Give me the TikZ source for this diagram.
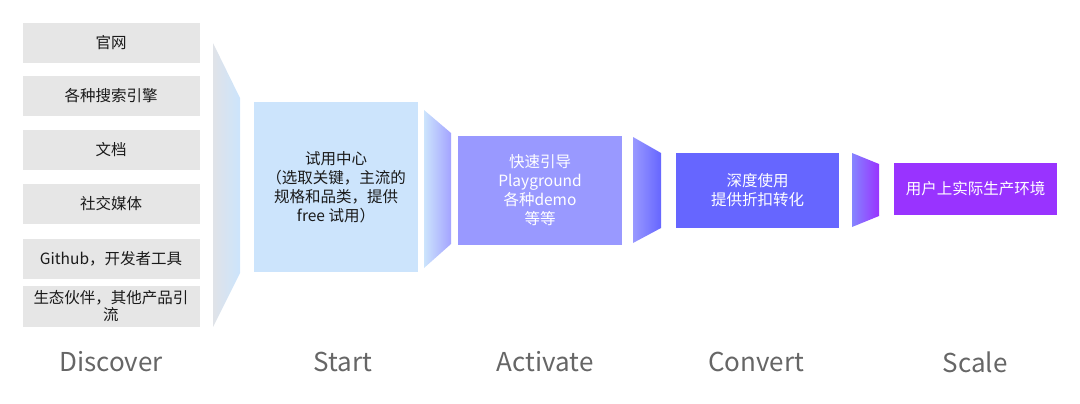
\documentclass[tikz,border=0pt]{standalone}
\usepackage{xcolor}
\usepackage{fontspec}
\setmainfont{Noto Sans CJK SC}
\usepackage{tikz}
\usetikzlibrary{positioning}

\definecolor{srcgray}{HTML}{E6E6E6}
\definecolor{funnelgray}{HTML}{E0E3E8}
\definecolor{startblue}{HTML}{CCE4FC}
\definecolor{actviolet}{HTML}{9999FF}
\definecolor{convblue}{HTML}{6666FF}
\definecolor{scalepurple}{HTML}{9933FF}
\definecolor{labelgray}{HTML}{666666}
\definecolor{textdark}{HTML}{1A1A1A}

\begin{document}
\begin{tikzpicture}[
    x=1pt, y=-1pt,
    source/.style={rectangle, fill=srcgray, minimum width=177pt, inner sep=0pt, align=center, text=textdark, font=\fontsize{15.5}{17}\selectfont},
    stage/.style={rectangle, inner sep=0pt, align=center, font=\fontsize{15.5}{19}\selectfont},
    phase/.style={text=labelgray, font=\fontsize{26}{30}\selectfont}
]
\useasboundingbox (0,0) rectangle (1080,404);
% Discover sources (left column)
\node[source, minimum height=40pt] (web) at (111, 43) {官网};
\node[source, minimum height=40pt] (search) at (111, 96) {各种搜索引擎};
\node[source, minimum height=40pt] (docs) at (111, 150) {文档};
\node[source, minimum height=40pt] (social) at (111, 204) {社交媒体};
\node[source, minimum height=40pt] (github) at (111, 259) {Github，开发者工具};
\node[source, minimum height=41pt] (partner) at (111, 306) {生态伙伴，其他产品引\\流};
% Funnel pieces
\shade[left color=funnelgray, right color=startblue] (213,43) -- (240,98) -- (240,273) -- (213,327) -- cycle;
\shade[left color=startblue, right color=actviolet!90] (424,110) -- (451,133) -- (451,244) -- (424,268) -- cycle;
\shade[left color=actviolet, right color=convblue] (633,137) -- (661,153) -- (661,228) -- (633,243) -- cycle;
\shade[left color=convblue!80, right color=scalepurple] (852,153) -- (879,164) -- (879,216) -- (852,227) -- cycle;
% Stage boxes
\node[stage, fill=startblue, text=textdark, minimum width=164pt, minimum height=170pt] (start) at (336, 187) {试用中心\\（选取关键，主流的\\规格和品类，提供\\free 试用）};
\node[stage, fill=actviolet, text=white, minimum width=164pt, minimum height=109pt] (activate) at (540, 190.5) {快速引导\\Playground\\各种demo\\等等};
\node[stage, fill=convblue, text=white, minimum width=163pt, minimum height=75pt] (convert) at (757.5, 190.5) {深度使用\\提供折扣转化};
\node[stage, fill=scalepurple, text=white, minimum width=163pt, minimum height=52pt] (scale) at (975.5, 189) {用户上实际生产环境};
% Phase labels
\node[phase] (discover-lbl) at (111, 362) {Discover};
\node[phase] (start-lbl) at (343, 362) {Start};
\node[phase] (activate-lbl) at (545, 362) {Activate};
\node[phase] (convert-lbl) at (756, 362) {Convert};
\node[phase] (scale-lbl) at (975, 362) {Scale};
\end{tikzpicture}
\end{document}
